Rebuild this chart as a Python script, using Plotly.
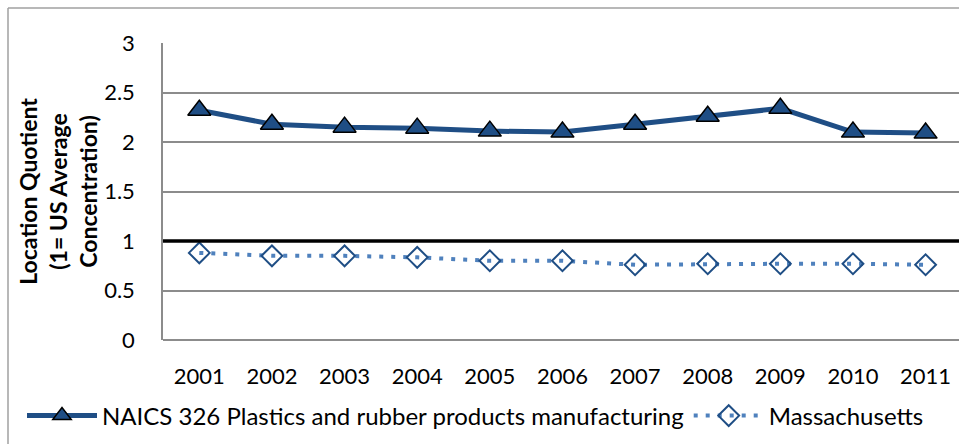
import plotly.graph_objects as go

years = ["2001", "2002", "2003", "2004", "2005", "2006", "2007", "2008", "2009", "2010", "2011"]
naics_326 = [2.32, 2.18, 2.15, 2.14, 2.11, 2.10, 2.18, 2.26, 2.34, 2.10, 2.09]
massachusetts = [0.88, 0.85, 0.85, 0.835, 0.80, 0.80, 0.76, 0.77, 0.77, 0.77, 0.76]
y_ticks = [0, 0.5, 1, 1.5, 2, 2.5, 3]
y_tick_text = ["0", "0.5", "1", "1.5", "2", "2.5", "3"]

W, H = 959, 444
ml, mr, mt, mb = 163, 0, 43, 104
pw, ph = W - ml - mr, H - mt - mb

FONT = "Lato"
dark_blue = "#1F4E85"
light_blue = "#4F81BD"

fig = go.Figure()

fig.add_trace(go.Scatter(
    x=years, y=naics_326, mode="lines+markers",
    name="NAICS 326 Plastics and rubber products manufacturing",
    line=dict(color=dark_blue, width=5),
    marker=dict(symbol="triangle-up", size=20, color=dark_blue,
                line=dict(color="black", width=1.5)),
))
fig.add_trace(go.Scatter(
    x=years, y=massachusetts, mode="lines+markers",
    name="Massachusetts",
    line=dict(color=light_blue, width=4, dash="4px,8px"),
    marker=dict(symbol="diamond-open", size=16, color=dark_blue,
                line=dict(color=dark_blue, width=2)),
))

# Reference level (US average = 1)
fig.add_shape(type="line", xref="paper", yref="y", x0=0, x1=1, y0=1, y1=1,
              line=dict(color="black", width=3.5), layer="above")

# Chart frame (left and top edges)
fx0 = (8 - ml) / pw
fy1 = 1 + (mt - 8) / ph
fig.add_shape(type="line", xref="paper", yref="paper", x0=fx0, x1=fx0, y0=-2, y1=fy1,
              line=dict(color="#A0A0A0", width=1.5))
fig.add_shape(type="line", xref="paper", yref="paper", x0=fx0, x1=2, y0=fy1, y1=fy1,
              line=dict(color="#A0A0A0", width=1.5))

fig.update_layout(
    width=W, height=H,
    margin=dict(l=ml, r=mr, t=mt, b=mb),
    paper_bgcolor="white", plot_bgcolor="white",
    font=dict(family=FONT, size=22, color="black"),
    showlegend=True,
    legend=dict(orientation="h", x=(22 - ml) / pw, xanchor="left",
                y=-(416 - 340) / ph, yanchor="middle",
                font=dict(family=FONT, size=24, color="black"),
                itemwidth=70, bgcolor="rgba(0,0,0,0)"),
    xaxis=dict(
        type="category", range=[-0.5, 10.46],
        showgrid=False, showline=False, zeroline=False,
        ticks="", ticklabelstandoff=21,
        tickfont=dict(family=FONT, size=22),
    ),
    yaxis=dict(
        range=[0, 3], tickvals=y_ticks, ticktext=y_tick_text,
        showgrid=True, gridcolor="#8C8C8C", gridwidth=1.5,
        showline=True, linecolor="#8C8C8C", linewidth=1.5,
        zeroline=True, zerolinecolor="#8C8C8C", zerolinewidth=1.5,
        ticks="", ticklabelstandoff=22,
        tickfont=dict(family=FONT, size=22),
        title=dict(text="<b>Location Quotient<br>(1= US Average<br>Concentration)</b>",
                   font=dict(family=FONT, size=23), standoff=0),
    ),
)

fig.write_html("out.html")
